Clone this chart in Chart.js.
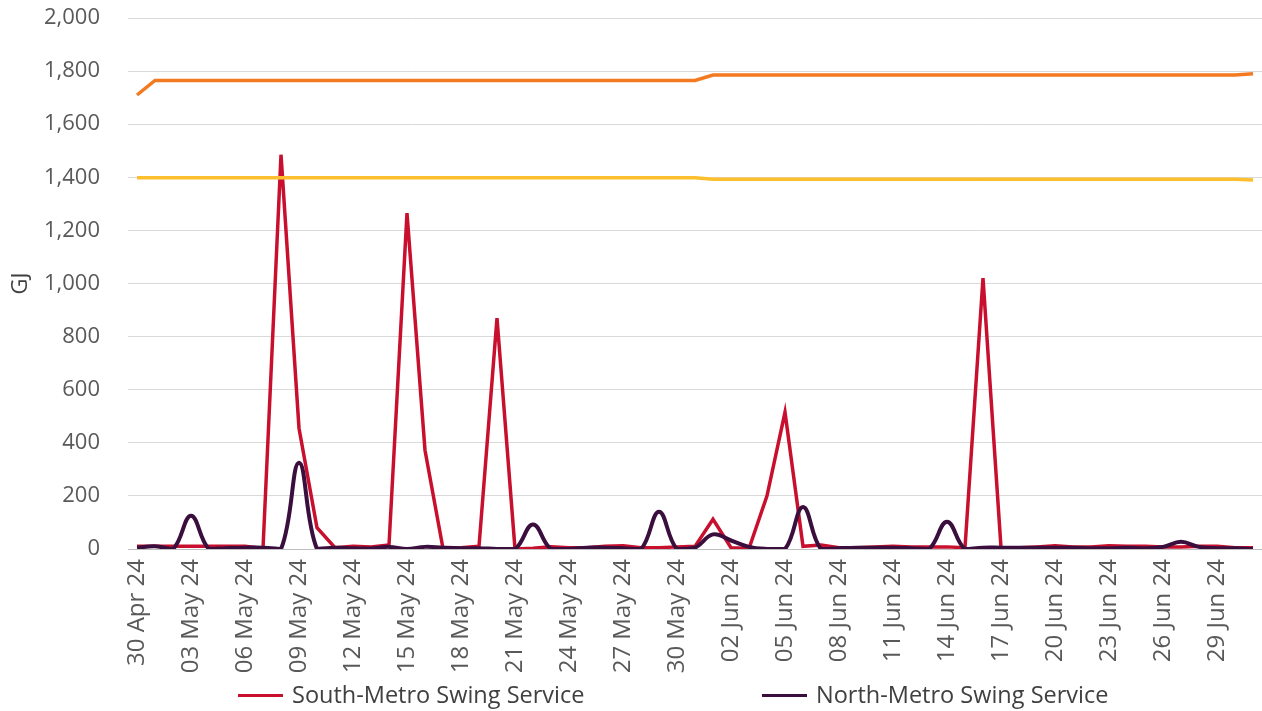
<!DOCTYPE html>
<html>
<head>
<meta charset="utf-8">
<script src="https://cdn.jsdelivr.net/npm/chart.js@4.4.1/dist/chart.umd.min.js"></script>
<style>
	html, body { margin: 0; padding: 0; background: #fff; }
	#wrap { position: relative; width: 1262px; height: 711px; }
	#legend { position: absolute; left: 0; top: 679px; width: 1262px; height: 32px; font-family: 'Open Sans', sans-serif; font-size: 23.5px; color: #404040; }
	.item { position: absolute; top: 0; white-space: nowrap; line-height: 30px; }
	.item .swatch { display: inline-block; width: 45px; height: 3px; vertical-align: middle; margin-right: 9px; margin-top: -2px; }
</style>
</head>
<body>
<div id="wrap">
	<canvas id="chart" width="1262" height="711"></canvas>
	<div id="legend"></div>
</div>
<script>
// daily categories, 30 Apr 24 - 01 Jul 24
const dates = [
	'30 Apr 24', '01 May 24', '02 May 24', '03 May 24', '04 May 24', '05 May 24', '06 May 24', '07 May 24',
	'08 May 24', '09 May 24', '10 May 24', '11 May 24', '12 May 24', '13 May 24', '14 May 24', '15 May 24',
	'16 May 24', '17 May 24', '18 May 24', '19 May 24', '20 May 24', '21 May 24', '22 May 24', '23 May 24',
	'24 May 24', '25 May 24', '26 May 24', '27 May 24', '28 May 24', '29 May 24', '30 May 24', '31 May 24',
	'01 Jun 24', '02 Jun 24', '03 Jun 24', '04 Jun 24', '05 Jun 24', '06 Jun 24', '07 Jun 24', '08 Jun 24',
	'09 Jun 24', '10 Jun 24', '11 Jun 24', '12 Jun 24', '13 Jun 24', '14 Jun 24', '15 Jun 24', '16 Jun 24',
	'17 Jun 24', '18 Jun 24', '19 Jun 24', '20 Jun 24', '21 Jun 24', '22 Jun 24', '23 Jun 24', '24 Jun 24',
	'25 Jun 24', '26 Jun 24', '27 Jun 24', '28 Jun 24', '29 Jun 24', '30 Jun 24', '01 Jul 24',
];

// South-Metro Swing Service (GJ)
const southMetro = [
	10, 10, 10, 10, 10, 10, 10, 2, 1485, 455, 80, 5, 10, 8, 15, 1265,
	372, 2, 5, 10, 870, 0, 3, 8, 5, 5, 10, 12, 5, 5, 8, 10,
	112, 5, 2, 200, 515, 10, 15, 5, 5, 8, 10, 8, 8, 8, 5, 1020,
	5, 5, 8, 12, 8, 8, 12, 10, 10, 8, 8, 10, 10, 5, 5,
];

// North-Metro Swing Service (GJ)
const northMetro = [
	5, 10, 0, 125, 0, 3, 5, 5, 0, 325, 0, 5, 3, 2, 8, 0,
	8, 5, 3, 3, 0, 0, 92, 0, 0, 5, 5, 3, 0, 140, 0, 5,
	55, 32, 8, 0, 0, 158, 0, 3, 5, 5, 5, 3, 0, 103, 0, 5,
	5, 5, 5, 5, 5, 3, 3, 5, 3, 8, 27, 8, 3, 3, 0,
];

// upper orange line
const orangeLine = [
	1710, 1765, 1765, 1765, 1765, 1765, 1765, 1765, 1765, 1765, 1765, 1765, 1765, 1765, 1765, 1765,
	1765, 1765, 1765, 1765, 1765, 1765, 1765, 1765, 1765, 1765, 1765, 1765, 1765, 1765, 1765, 1765,
	1785, 1785, 1785, 1785, 1785, 1785, 1785, 1785, 1785, 1785, 1785, 1785, 1785, 1785, 1785, 1785,
	1785, 1785, 1785, 1785, 1785, 1785, 1785, 1785, 1785, 1785, 1785, 1785, 1785, 1785, 1790,
];

// yellow line
const yellowLine = [
	1398, 1398, 1398, 1398, 1398, 1398, 1398, 1398, 1398, 1398, 1398, 1398, 1398, 1398, 1398, 1398,
	1398, 1398, 1398, 1398, 1398, 1398, 1398, 1398, 1398, 1398, 1398, 1398, 1398, 1398, 1398, 1398,
	1393, 1393, 1393, 1393, 1393, 1393, 1393, 1393, 1393, 1393, 1393, 1393, 1393, 1393, 1393, 1393,
	1393, 1393, 1393, 1393, 1393, 1393, 1393, 1393, 1393, 1393, 1393, 1393, 1393, 1393, 1390,
];

const yTicks = [0, 200, 400, 600, 800, 1000, 1200, 1400, 1600, 1800, 2000];

const fontFamily = "'Open Sans', 'Noto Sans', sans-serif";

// legend entries shown under the chart
const legendItems = [
	{ label: 'South-Metro Swing Service', color: '#c8102e', left: 238 },
	{ label: 'North-Metro Swing Service', color: '#3a0f3e', left: 762 },
];

let legendEl = document.getElementById('legend');
legendItems.forEach((item) => {
	let div = document.createElement('div');
	div.className = 'item';
	div.style.left = item.left + 'px';
	div.innerHTML = `<span class="swatch" style="background:${item.color}"></span>${item.label}`;
	legendEl.appendChild(div);
});

let lineDataset = (label, data, color, width, tension) => ({
	label,
	data,
	borderColor: color,
	backgroundColor: color,
	borderWidth: width,
	pointRadius: 0,
	tension,
	fill: false,
});

new Chart(document.getElementById('chart'), {
	type: 'line',
	data: {
		labels: dates,
		datasets: [
			lineDataset('Yellow line', yellowLine, '#fdbf2d', 3.5, 0),
			lineDataset('Orange line', orangeLine, '#f47a22', 3.5, 0),
			lineDataset('North-Metro Swing Service', northMetro, '#3a0f3e', 4, 0.4),
			lineDataset('South-Metro Swing Service', southMetro, '#c8102e', 3.5, 0),
		],
	},
	options: {
		responsive: false,
		animation: false,
		layout: {
			padding: { top: 18, right: 0, bottom: 32, left: 0 },
		},
		plugins: {
			legend: { display: false },
			tooltip: { enabled: false },
		},
		scales: {
			x: {
				offset: true,
				grid: { display: false, drawTicks: false },
				border: { display: true, color: '#bfbfbf', width: 1 },
				ticks: {
					autoSkip: false,
					minRotation: 90,
					maxRotation: 90,
					padding: 10,
					color: '#595959',
					font: { family: fontFamily, size: 24 },
					callback: (value, index) => (index % 3 === 0 ? dates[index] : ''),
				},
				// fixed axis height, no extra side padding for rotated labels
				afterFit: (scale) => {
					scale.height = 130;
					scale.paddingLeft = 0;
					scale.paddingRight = 0;
				},
			},
			y: {
				min: 0,
				max: 2000,
				afterBuildTicks: (scale) => { scale.ticks = yTicks.map(v => ({ value: v })); },
				grid: {
					drawTicks: false,
					color: (ctx) => (ctx.tick && ctx.tick.value === 0 ? '#bfbfbf' : '#d9d9d9'),
					lineWidth: 1,
				},
				border: { display: false },
				ticks: {
					padding: 28,
					color: '#595959',
					font: { family: fontFamily, size: 22 },
					callback: (value) => value.toLocaleString('en-US'),
				},
				title: {
					display: true,
					text: 'GJ',
					color: '#404040',
					font: { family: fontFamily, size: 22 },
					padding: { top: 8, bottom: 0 },
				},
				afterFit: (scale) => {
					scale.width = 128;
					scale.paddingTop = 0;
					scale.paddingBottom = 0;
				},
			},
		},
	},
});
</script>
</body>
</html>
